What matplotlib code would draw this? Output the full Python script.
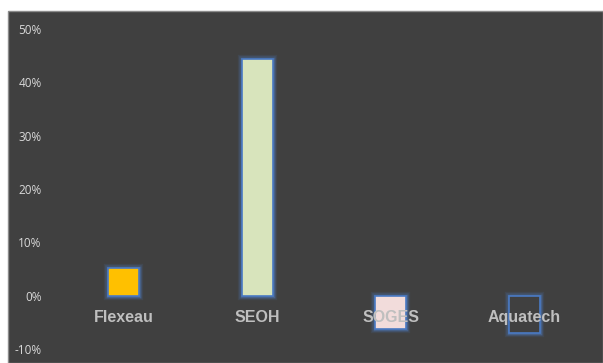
import matplotlib
matplotlib.use("Agg")
import matplotlib.pyplot as plt
from matplotlib.patches import Rectangle
from matplotlib.ticker import FuncFormatter

categories = ["Flexeau", "SEOH", "SOGES", "Aquatech"]
values = [0.052, 0.443, -0.062, -0.070]
fills = ["#ffc000", "#d8e4bc", "#f2dcdb", "#404040"]
yticks = [-0.10, 0.0, 0.10, 0.20, 0.30, 0.40, 0.50]

BG = "#404040"
fig = plt.figure(figsize=(6.03, 3.63), dpi=100, facecolor="white")
fig.patches.append(Rectangle((8/603, 0), 1 - 8/603, 1 - 11/363, transform=fig.transFigure,
                             facecolor=BG, edgecolor="#8c8c8c", linewidth=1.0, zorder=-10))

ax = fig.add_axes([57/603, 14/363, 534/603, 320/363])
ax.set_zorder(5)
ax.set_facecolor("none")
x = list(range(len(categories)))
w = 0.235
# glow
for lw, a in [(6, 0.12), (4, 0.2), (2.5, 0.35)]:
    ax.bar(x, values, width=w, color="none", edgecolor="#4f7fc8", linewidth=lw, alpha=a, zorder=2)
ax.bar(x, values, width=w, color=fills, edgecolor="#4a7ac4", linewidth=1.2, zorder=3)

ax.set_xlim(-0.5, len(categories) - 0.5)
ax.set_ylim(-0.10, 0.50)
ax.set_yticks(yticks)
ax.yaxis.set_major_formatter(FuncFormatter(lambda v, p: f"{v*100:.0f}%"))
ax.tick_params(axis="y", length=0, colors="#d9d9d9", labelsize=8.5, pad=11)
ax.set_xticks([])
for s in ax.spines.values():
    s.set_visible(False)
for lbl in ax.get_yticklabels():
    lbl.set_fontfamily("Open Sans")

for xi, c in zip(x, categories):
    ax.text(xi, -0.041, c, ha="center", va="center", color="#bfbfbf", fontsize=11.5,
            fontweight="bold", family="Liberation Sans", zorder=5)

fig.savefig("out.png", dpi=100, facecolor="white")
